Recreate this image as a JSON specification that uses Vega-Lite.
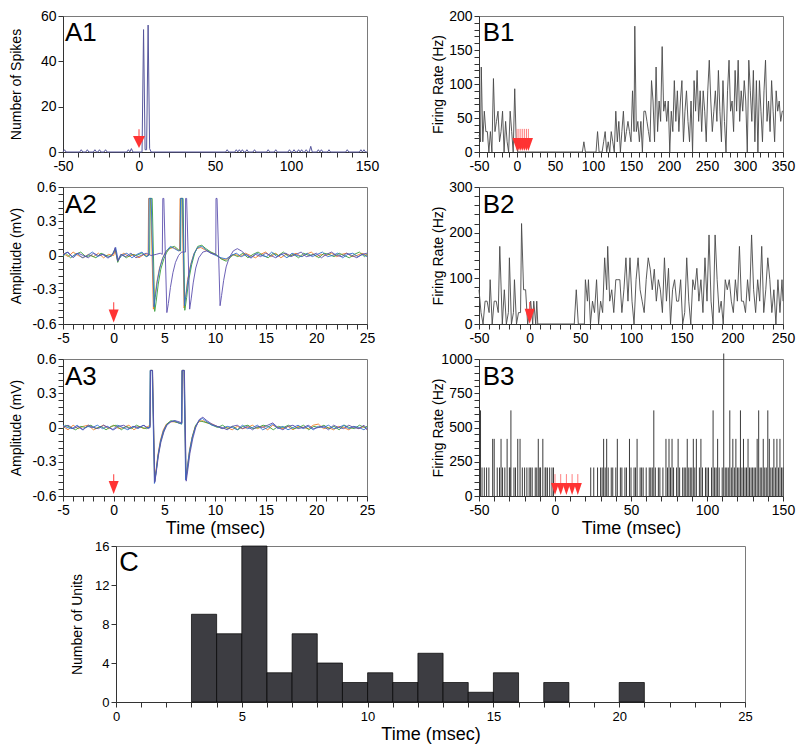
{
"$schema":"https://vega.github.io/schema/vega-lite/v6.json",
"padding":{"left":8,"top":8,"right":4,"bottom":4},
"config":{"font":"Liberation Sans","view":{"stroke":"#7a7a7a","strokeWidth":1},
"axis":{"domainColor":"#333","tickColor":"#333","labelColor":"#000","titleColor":"#000","grid":false,"tickSize":5,"labelPadding":2,"labelFontSize":14,"titleFontSize":14,"titleFontWeight":"normal","labelFlush":false,"labelOverlap":false}},
"datasets":{
"a1":[{"t":-50,"v":0},{"t":-49,"v":1},{"t":-48,"v":0},{"t":-39,"v":0},{"t":-38,"v":1},{"t":-37,"v":0},{"t":-35,"v":0},{"t":-34,"v":1},{"t":-33,"v":0},{"t":-30,"v":0},{"t":-29,"v":1},{"t":-28,"v":0},{"t":-27,"v":0},{"t":-26,"v":1},{"t":-25,"v":0},{"t":-23,"v":0},{"t":-22,"v":1},{"t":-21,"v":0},{"t":-8,"v":0},{"t":-7,"v":1},{"t":-6,"v":0},{"t":-5,"v":1.5},{"t":-4,"v":0},{"t":2,"v":0},{"t":3,"v":54},{"t":4,"v":1},{"t":5,"v":1},{"t":6,"v":56},{"t":7,"v":1.5},{"t":8,"v":0},{"t":57,"v":0},{"t":58,"v":1},{"t":59,"v":0},{"t":63,"v":0},{"t":64,"v":1},{"t":65,"v":0},{"t":66,"v":1},{"t":67,"v":0},{"t":68,"v":1},{"t":69,"v":0},{"t":70,"v":0},{"t":71,"v":1},{"t":72,"v":0},{"t":75,"v":0},{"t":76,"v":1},{"t":77,"v":0},{"t":84,"v":0},{"t":85,"v":1},{"t":86,"v":0},{"t":89,"v":0},{"t":90,"v":1},{"t":91,"v":0},{"t":98,"v":0},{"t":99,"v":1},{"t":100,"v":0},{"t":101,"v":0},{"t":102,"v":1},{"t":103,"v":0},{"t":104,"v":0},{"t":105,"v":1},{"t":106,"v":0},{"t":107,"v":1},{"t":108,"v":0},{"t":109,"v":0},{"t":110,"v":1},{"t":111,"v":0},{"t":112,"v":0},{"t":113,"v":2.5},{"t":114,"v":0},{"t":117,"v":0},{"t":118,"v":1},{"t":119,"v":0},{"t":120,"v":1},{"t":121,"v":0},{"t":124,"v":0},{"t":125,"v":1},{"t":126,"v":0},{"t":136,"v":0},{"t":137,"v":1},{"t":138,"v":0},{"t":145,"v":0},{"t":146,"v":1},{"t":147,"v":0},{"t":148,"v":1},{"t":149,"v":0},{"t":150,"v":0}],
"a2":[
{"s":"a","t":-5,"v":0.02},{"s":"a","t":-4.5,"v":-0.01},{"s":"a","t":-4,"v":0.03},{"s":"a","t":-3.5,"v":0},{"s":"a","t":-3,"v":-0.02},{"s":"a","t":-2.5,"v":0.01},{"s":"a","t":-2,"v":-0.01},{"s":"a","t":-1.5,"v":0.02},{"s":"a","t":-1,"v":-0.02},{"s":"a","t":-0.5,"v":0.01},{"s":"a","t":0,"v":0},{"s":"a","t":0.15,"v":0.05},{"s":"a","t":0.4,"v":-0.05},{"s":"a","t":0.7,"v":0},{"s":"a","t":1,"v":0.02},{"s":"a","t":1.5,"v":-0.01},{"s":"a","t":2,"v":0.01},{"s":"a","t":2.5,"v":-0.02},{"s":"a","t":3,"v":0.01},{"s":"a","t":3.4,"v":0},{"s":"a","t":3.45,"v":0.5},{"s":"a","t":3.65,"v":0.5},{"s":"a","t":3.92,"v":-0.47},{"s":"a","t":4.05,"v":-0.38},{"s":"a","t":4.25,"v":-0.24},{"s":"a","t":4.5,"v":-0.12},{"s":"a","t":4.8,"v":-0.03},{"s":"a","t":5.1,"v":0.03},{"s":"a","t":5.5,"v":0.06},{"s":"a","t":5.9,"v":0.07},{"s":"a","t":6.3,"v":0.05},{"s":"a","t":6.5,"v":0.04},{"s":"a","t":6.55,"v":0.5},{"s":"a","t":6.75,"v":0.5},{"s":"a","t":6.95,"v":-0.46},{"s":"a","t":7.1,"v":-0.36},{"s":"a","t":7.3,"v":-0.21},{"s":"a","t":7.6,"v":-0.08},{"s":"a","t":7.9,"v":0.01},{"s":"a","t":8.2,"v":0.06},{"s":"a","t":8.6,"v":0.07},{"s":"a","t":9,"v":0.05},{"s":"a","t":9.5,"v":0.03},{"s":"a","t":10,"v":0.01},{"s":"a","t":10.5,"v":-0.02},{"s":"a","t":11,"v":-0.04},{"s":"a","t":11.5,"v":-0.01},{"s":"a","t":12,"v":0.01},{"s":"a","t":12.5,"v":-0.01},{"s":"a","t":13,"v":0.02},{"s":"a","t":13.5,"v":0},{"s":"a","t":14,"v":-0.02},{"s":"a","t":14.5,"v":0.01},{"s":"a","t":15,"v":0.03},{"s":"a","t":15.5,"v":-0.01},{"s":"a","t":16,"v":0.02},{"s":"a","t":16.5,"v":-0.02},{"s":"a","t":17,"v":0.01},{"s":"a","t":17.5,"v":0},{"s":"a","t":18,"v":0.02},{"s":"a","t":18.5,"v":-0.01},{"s":"a","t":19,"v":0.01},{"s":"a","t":19.5,"v":0.03},{"s":"a","t":20,"v":-0.01},{"s":"a","t":20.5,"v":0.01},{"s":"a","t":21,"v":0},{"s":"a","t":21.5,"v":0.02},{"s":"a","t":22,"v":-0.01},{"s":"a","t":22.5,"v":0.01},{"s":"a","t":23,"v":0.02},{"s":"a","t":23.5,"v":-0.01},{"s":"a","t":24,"v":0},{"s":"a","t":24.5,"v":0.02},{"s":"a","t":25,"v":0},
{"s":"b","t":-5,"v":-0.01},{"s":"b","t":-4.75,"v":0.02},{"s":"b","t":-4.25,"v":-0.02},{"s":"b","t":-3.75,"v":0.01},{"s":"b","t":-3.25,"v":0.03},{"s":"b","t":-2.75,"v":-0.01},{"s":"b","t":-2.25,"v":0},{"s":"b","t":-1.75,"v":-0.02},{"s":"b","t":-1.25,"v":0.02},{"s":"b","t":-0.75,"v":0},{"s":"b","t":-0.25,"v":-0.01},{"s":"b","t":0.15,"v":0.06},{"s":"b","t":0.4,"v":-0.06},{"s":"b","t":0.75,"v":0.01},{"s":"b","t":1.25,"v":-0.02},{"s":"b","t":1.75,"v":0.01},{"s":"b","t":2.25,"v":0},{"s":"b","t":2.75,"v":0.02},{"s":"b","t":3.25,"v":-0.01},{"s":"b","t":3.55,"v":0.01},{"s":"b","t":3.6,"v":0.5},{"s":"b","t":3.8,"v":0.5},{"s":"b","t":4.05,"v":-0.49},{"s":"b","t":4.2,"v":-0.4},{"s":"b","t":4.4,"v":-0.25},{"s":"b","t":4.65,"v":-0.12},{"s":"b","t":4.95,"v":-0.03},{"s":"b","t":5.25,"v":0.03},{"s":"b","t":5.6,"v":0.07},{"s":"b","t":6,"v":0.08},{"s":"b","t":6.4,"v":0.05},{"s":"b","t":6.6,"v":0.04},{"s":"b","t":6.65,"v":0.5},{"s":"b","t":6.85,"v":0.5},{"s":"b","t":7.02,"v":-0.48},{"s":"b","t":7.2,"v":-0.37},{"s":"b","t":7.4,"v":-0.22},{"s":"b","t":7.7,"v":-0.08},{"s":"b","t":8,"v":0.02},{"s":"b","t":8.3,"v":0.08},{"s":"b","t":8.7,"v":0.09},{"s":"b","t":9.1,"v":0.06},{"s":"b","t":9.6,"v":0.03},{"s":"b","t":10.1,"v":0.01},{"s":"b","t":10.6,"v":-0.03},{"s":"b","t":11.1,"v":-0.05},{"s":"b","t":11.5,"v":-0.02},{"s":"b","t":11.75,"v":0.01},{"s":"b","t":12.25,"v":-0.01},{"s":"b","t":12.75,"v":0.02},{"s":"b","t":13.25,"v":-0.02},{"s":"b","t":13.75,"v":0.01},{"s":"b","t":14.25,"v":0.03},{"s":"b","t":14.75,"v":0},{"s":"b","t":15.25,"v":-0.02},{"s":"b","t":15.75,"v":0.02},{"s":"b","t":16.25,"v":0},{"s":"b","t":16.75,"v":0.03},{"s":"b","t":17.25,"v":-0.01},{"s":"b","t":17.75,"v":0.01},{"s":"b","t":18.25,"v":-0.02},{"s":"b","t":18.75,"v":0.02},{"s":"b","t":19.25,"v":0},{"s":"b","t":19.75,"v":0.01},{"s":"b","t":20.25,"v":-0.02},{"s":"b","t":20.75,"v":0.02},{"s":"b","t":21.25,"v":0.01},{"s":"b","t":21.75,"v":-0.01},{"s":"b","t":22.25,"v":0.02},{"s":"b","t":22.75,"v":0},{"s":"b","t":23.25,"v":-0.02},{"s":"b","t":23.75,"v":0.01},{"s":"b","t":24.25,"v":0.03},{"s":"b","t":24.75,"v":-0.01},{"s":"b","t":25,"v":0.01},
{"s":"c","t":-5,"v":0},{"s":"c","t":-4.6,"v":0.03},{"s":"c","t":-4.1,"v":-0.01},{"s":"c","t":-3.6,"v":0.02},{"s":"c","t":-3.1,"v":-0.02},{"s":"c","t":-2.6,"v":0},{"s":"c","t":-2.1,"v":0.03},{"s":"c","t":-1.6,"v":-0.01},{"s":"c","t":-1.1,"v":0.01},{"s":"c","t":-0.6,"v":-0.02},{"s":"c","t":-0.1,"v":0.01},{"s":"c","t":0.2,"v":0.07},{"s":"c","t":0.45,"v":-0.04},{"s":"c","t":0.8,"v":0},{"s":"c","t":1.3,"v":0.02},{"s":"c","t":1.8,"v":-0.02},{"s":"c","t":2.3,"v":0.01},{"s":"c","t":2.8,"v":0.03},{"s":"c","t":3.2,"v":-0.01},{"s":"c","t":3.45,"v":0},{"s":"c","t":3.5,"v":0.5},{"s":"c","t":3.7,"v":0.5},{"s":"c","t":3.98,"v":-0.45},{"s":"c","t":4.1,"v":-0.37},{"s":"c","t":4.3,"v":-0.23},{"s":"c","t":4.55,"v":-0.11},{"s":"c","t":4.85,"v":-0.02},{"s":"c","t":5.2,"v":0.04},{"s":"c","t":5.6,"v":0.08},{"s":"c","t":6,"v":0.06},{"s":"c","t":6.4,"v":0.04},{"s":"c","t":6.55,"v":0.05},{"s":"c","t":6.6,"v":0.5},{"s":"c","t":6.8,"v":0.5},{"s":"c","t":6.98,"v":-0.44},{"s":"c","t":7.15,"v":-0.34},{"s":"c","t":7.35,"v":-0.2},{"s":"c","t":7.65,"v":-0.07},{"s":"c","t":7.95,"v":0.02},{"s":"c","t":8.3,"v":0.07},{"s":"c","t":8.7,"v":0.08},{"s":"c","t":9.1,"v":0.05},{"s":"c","t":9.6,"v":0.02},{"s":"c","t":10.1,"v":0},{"s":"c","t":10.6,"v":-0.02},{"s":"c","t":11.1,"v":-0.03},{"s":"c","t":11.6,"v":0},{"s":"c","t":12.1,"v":0.02},{"s":"c","t":12.6,"v":-0.01},{"s":"c","t":13.1,"v":0.01},{"s":"c","t":13.6,"v":-0.02},{"s":"c","t":14.1,"v":0.02},{"s":"c","t":14.6,"v":0},{"s":"c","t":15.1,"v":-0.01},{"s":"c","t":15.6,"v":0.03},{"s":"c","t":16.1,"v":-0.01},{"s":"c","t":16.6,"v":0.01},{"s":"c","t":17.1,"v":-0.02},{"s":"c","t":17.6,"v":0.02},{"s":"c","t":18.1,"v":0},{"s":"c","t":18.6,"v":-0.01},{"s":"c","t":19.1,"v":0.02},{"s":"c","t":19.6,"v":-0.01},{"s":"c","t":20.1,"v":0.01},{"s":"c","t":20.6,"v":0.03},{"s":"c","t":21.1,"v":-0.01},{"s":"c","t":21.6,"v":0},{"s":"c","t":22.1,"v":0.02},{"s":"c","t":22.6,"v":-0.02},{"s":"c","t":23.1,"v":0.01},{"s":"c","t":23.6,"v":0.02},{"s":"c","t":24.1,"v":-0.01},{"s":"c","t":24.6,"v":0.01},{"s":"c","t":25,"v":-0.01},
{"s":"d","t":-5,"v":0.01},{"s":"d","t":-4.5,"v":0.03},{"s":"d","t":-4,"v":-0.02},{"s":"d","t":-3.5,"v":0.02},{"s":"d","t":-3,"v":0},{"s":"d","t":-2.5,"v":-0.02},{"s":"d","t":-2,"v":0.02},{"s":"d","t":-1.5,"v":0},{"s":"d","t":-1,"v":0.01},{"s":"d","t":-0.5,"v":-0.02},{"s":"d","t":0,"v":0.02},{"s":"d","t":0.15,"v":0.07},{"s":"d","t":0.4,"v":-0.05},{"s":"d","t":0.7,"v":0.01},{"s":"d","t":1.2,"v":-0.01},{"s":"d","t":1.7,"v":0.02},{"s":"d","t":2.2,"v":-0.02},{"s":"d","t":2.7,"v":0},{"s":"d","t":3.2,"v":0.02},{"s":"d","t":3.7,"v":0},{"s":"d","t":4.2,"v":0.01},{"s":"d","t":4.6,"v":0.02},{"s":"d","t":4.8,"v":0.01},{"s":"d","t":4.85,"v":0.5},{"s":"d","t":4.95,"v":0.5},{"s":"d","t":5.25,"v":-0.5},{"s":"d","t":5.4,"v":-0.42},{"s":"d","t":5.6,"v":-0.28},{"s":"d","t":5.85,"v":-0.15},{"s":"d","t":6.1,"v":-0.06},{"s":"d","t":6.4,"v":0},{"s":"d","t":6.7,"v":0.03},{"s":"d","t":7,"v":0.03},{"s":"d","t":7.08,"v":0.03},{"s":"d","t":7.1,"v":0.5},{"s":"d","t":7.2,"v":0.5},{"s":"d","t":7.5,"v":-0.47},{"s":"d","t":7.65,"v":-0.38},{"s":"d","t":7.85,"v":-0.24},{"s":"d","t":8.1,"v":-0.11},{"s":"d","t":8.4,"v":-0.02},{"s":"d","t":8.8,"v":0.03},{"s":"d","t":9.2,"v":0.04},{"s":"d","t":9.6,"v":0.02},{"s":"d","t":10,"v":0.01},{"s":"d","t":10.08,"v":0.01},{"s":"d","t":10.1,"v":0.5},{"s":"d","t":10.2,"v":0.5},{"s":"d","t":10.5,"v":-0.44},{"s":"d","t":10.65,"v":-0.35},{"s":"d","t":10.85,"v":-0.22},{"s":"d","t":11.1,"v":-0.1},{"s":"d","t":11.4,"v":-0.02},{"s":"d","t":11.8,"v":0.04},{"s":"d","t":12.2,"v":0.06},{"s":"d","t":12.6,"v":0.04},{"s":"d","t":13,"v":0.01},{"s":"d","t":13.5,"v":-0.02},{"s":"d","t":14,"v":0.01},{"s":"d","t":14.5,"v":-0.01},{"s":"d","t":15,"v":0.02},{"s":"d","t":15.5,"v":0},{"s":"d","t":16,"v":-0.02},{"s":"d","t":16.5,"v":0.01},{"s":"d","t":17,"v":0.02},{"s":"d","t":17.5,"v":-0.01},{"s":"d","t":18,"v":0.01},{"s":"d","t":18.5,"v":0.03},{"s":"d","t":19,"v":-0.01},{"s":"d","t":19.5,"v":0},{"s":"d","t":20,"v":0.02},{"s":"d","t":20.5,"v":-0.02},{"s":"d","t":21,"v":0.01},{"s":"d","t":21.5,"v":0.03},{"s":"d","t":22,"v":0},{"s":"d","t":22.5,"v":-0.01},{"s":"d","t":23,"v":0.02},{"s":"d","t":23.5,"v":0},{"s":"d","t":24,"v":-0.02},{"s":"d","t":24.5,"v":0.01},{"s":"d","t":25,"v":0.02}],
"a3":[
{"s":"a","t":-5,"v":0.01},{"s":"a","t":-4.5,"v":-0.02},{"s":"a","t":-4,"v":0.02},{"s":"a","t":-3.5,"v":-0.01},{"s":"a","t":-3,"v":0.01},{"s":"a","t":-2.5,"v":0.02},{"s":"a","t":-2,"v":-0.02},{"s":"a","t":-1.5,"v":0},{"s":"a","t":-1,"v":0.02},{"s":"a","t":-0.5,"v":-0.01},{"s":"a","t":0,"v":0.02},{"s":"a","t":0.5,"v":-0.01},{"s":"a","t":1,"v":0},{"s":"a","t":1.5,"v":0.02},{"s":"a","t":2,"v":-0.02},{"s":"a","t":2.5,"v":0.01},{"s":"a","t":3,"v":-0.01},{"s":"a","t":3.4,"v":0.01},{"s":"a","t":3.6,"v":0.02},{"s":"a","t":3.63,"v":0.5},{"s":"a","t":3.83,"v":0.5},{"s":"a","t":4.03,"v":-0.45},{"s":"a","t":4.18,"v":-0.37},{"s":"a","t":4.38,"v":-0.23},{"s":"a","t":4.62,"v":-0.11},{"s":"a","t":4.9,"v":-0.02},{"s":"a","t":5.2,"v":0.03},{"s":"a","t":5.6,"v":0.05},{"s":"a","t":6,"v":0.05},{"s":"a","t":6.4,"v":0.04},{"s":"a","t":6.7,"v":0.04},{"s":"a","t":6.74,"v":0.5},{"s":"a","t":6.94,"v":0.5},{"s":"a","t":7.12,"v":-0.44},{"s":"a","t":7.28,"v":-0.34},{"s":"a","t":7.48,"v":-0.2},{"s":"a","t":7.75,"v":-0.08},{"s":"a","t":8.05,"v":0.01},{"s":"a","t":8.4,"v":0.05},{"s":"a","t":8.8,"v":0.06},{"s":"a","t":9.2,"v":0.04},{"s":"a","t":9.7,"v":0.03},{"s":"a","t":10.2,"v":0.01},{"s":"a","t":10.7,"v":-0.01},{"s":"a","t":11.2,"v":0},{"s":"a","t":11.7,"v":-0.02},{"s":"a","t":12.2,"v":0.01},{"s":"a","t":12.7,"v":-0.01},{"s":"a","t":13.2,"v":0},{"s":"a","t":13.7,"v":0.02},{"s":"a","t":14.2,"v":-0.01},{"s":"a","t":14.7,"v":0.01},{"s":"a","t":15.2,"v":-0.02},{"s":"a","t":15.7,"v":0.02},{"s":"a","t":16.2,"v":0},{"s":"a","t":16.7,"v":-0.01},{"s":"a","t":17.2,"v":0.01},{"s":"a","t":17.7,"v":-0.02},{"s":"a","t":18.2,"v":0.01},{"s":"a","t":18.7,"v":0},{"s":"a","t":19.2,"v":-0.01},{"s":"a","t":19.7,"v":0.02},{"s":"a","t":20.2,"v":0.03},{"s":"a","t":20.7,"v":-0.01},{"s":"a","t":21.2,"v":0},{"s":"a","t":21.7,"v":-0.02},{"s":"a","t":22.2,"v":0.01},{"s":"a","t":22.7,"v":0},{"s":"a","t":23.2,"v":-0.02},{"s":"a","t":23.7,"v":0.01},{"s":"a","t":24.2,"v":-0.01},{"s":"a","t":24.7,"v":0.01},{"s":"a","t":25,"v":-0.02},
{"s":"b","t":-5,"v":-0.01},{"s":"b","t":-4.75,"v":0.02},{"s":"b","t":-4.25,"v":0},{"s":"b","t":-3.75,"v":-0.02},{"s":"b","t":-3.25,"v":0.01},{"s":"b","t":-2.75,"v":0},{"s":"b","t":-2.25,"v":0.02},{"s":"b","t":-1.75,"v":-0.01},{"s":"b","t":-1.25,"v":0.01},{"s":"b","t":-0.75,"v":-0.02},{"s":"b","t":-0.25,"v":0.01},{"s":"b","t":0.25,"v":0.02},{"s":"b","t":0.75,"v":-0.02},{"s":"b","t":1.25,"v":0.01},{"s":"b","t":1.75,"v":-0.01},{"s":"b","t":2.25,"v":0.02},{"s":"b","t":2.75,"v":0},{"s":"b","t":3.25,"v":-0.01},{"s":"b","t":3.58,"v":0.01},{"s":"b","t":3.62,"v":0.5},{"s":"b","t":3.82,"v":0.5},{"s":"b","t":4.05,"v":-0.47},{"s":"b","t":4.2,"v":-0.38},{"s":"b","t":4.4,"v":-0.24},{"s":"b","t":4.65,"v":-0.12},{"s":"b","t":4.95,"v":-0.03},{"s":"b","t":5.25,"v":0.03},{"s":"b","t":5.65,"v":0.06},{"s":"b","t":6.05,"v":0.05},{"s":"b","t":6.45,"v":0.04},{"s":"b","t":6.72,"v":0.03},{"s":"b","t":6.76,"v":0.5},{"s":"b","t":6.96,"v":0.5},{"s":"b","t":7.14,"v":-0.45},{"s":"b","t":7.3,"v":-0.35},{"s":"b","t":7.5,"v":-0.21},{"s":"b","t":7.78,"v":-0.08},{"s":"b","t":8.1,"v":0.02},{"s":"b","t":8.45,"v":0.06},{"s":"b","t":8.85,"v":0.05},{"s":"b","t":9.3,"v":0.04},{"s":"b","t":9.75,"v":0.02},{"s":"b","t":10.25,"v":0},{"s":"b","t":10.75,"v":0.02},{"s":"b","t":11.25,"v":-0.01},{"s":"b","t":11.75,"v":0.01},{"s":"b","t":12.25,"v":-0.02},{"s":"b","t":12.75,"v":0.01},{"s":"b","t":13.25,"v":0.02},{"s":"b","t":13.75,"v":-0.01},{"s":"b","t":14.25,"v":0},{"s":"b","t":14.75,"v":0.02},{"s":"b","t":15.25,"v":0.01},{"s":"b","t":15.75,"v":-0.02},{"s":"b","t":16.25,"v":0.01},{"s":"b","t":16.75,"v":0},{"s":"b","t":17.25,"v":0.02},{"s":"b","t":17.75,"v":-0.01},{"s":"b","t":18.25,"v":0},{"s":"b","t":18.75,"v":0.02},{"s":"b","t":19.25,"v":-0.02},{"s":"b","t":19.75,"v":0.01},{"s":"b","t":20.25,"v":0},{"s":"b","t":20.75,"v":0.02},{"s":"b","t":21.25,"v":-0.01},{"s":"b","t":21.75,"v":0.01},{"s":"b","t":22.25,"v":-0.02},{"s":"b","t":22.75,"v":0.02},{"s":"b","t":23.25,"v":0},{"s":"b","t":23.75,"v":-0.01},{"s":"b","t":24.25,"v":0.02},{"s":"b","t":24.75,"v":0},{"s":"b","t":25,"v":0.01},
{"s":"c","t":-5,"v":0.02},{"s":"c","t":-4.6,"v":0},{"s":"c","t":-4.1,"v":-0.01},{"s":"c","t":-3.6,"v":0.02},{"s":"c","t":-3.1,"v":-0.02},{"s":"c","t":-2.6,"v":0.01},{"s":"c","t":-2.1,"v":0},{"s":"c","t":-1.6,"v":0.02},{"s":"c","t":-1.1,"v":-0.01},{"s":"c","t":-0.6,"v":0.01},{"s":"c","t":-0.1,"v":-0.02},{"s":"c","t":0.4,"v":0.02},{"s":"c","t":0.9,"v":0},{"s":"c","t":1.4,"v":-0.02},{"s":"c","t":1.9,"v":0.01},{"s":"c","t":2.4,"v":-0.01},{"s":"c","t":2.9,"v":0.02},{"s":"c","t":3.3,"v":0},{"s":"c","t":3.56,"v":0},{"s":"c","t":3.6,"v":0.5},{"s":"c","t":3.8,"v":0.5},{"s":"c","t":4.02,"v":-0.49},{"s":"c","t":4.17,"v":-0.4},{"s":"c","t":4.37,"v":-0.25},{"s":"c","t":4.62,"v":-0.12},{"s":"c","t":4.9,"v":-0.03},{"s":"c","t":5.2,"v":0.02},{"s":"c","t":5.6,"v":0.05},{"s":"c","t":6,"v":0.06},{"s":"c","t":6.4,"v":0.04},{"s":"c","t":6.7,"v":0.03},{"s":"c","t":6.74,"v":0.5},{"s":"c","t":6.94,"v":0.5},{"s":"c","t":7.1,"v":-0.46},{"s":"c","t":7.26,"v":-0.36},{"s":"c","t":7.46,"v":-0.22},{"s":"c","t":7.74,"v":-0.09},{"s":"c","t":8.05,"v":0},{"s":"c","t":8.4,"v":0.06},{"s":"c","t":8.75,"v":0.08},{"s":"c","t":9.2,"v":0.05},{"s":"c","t":9.7,"v":0.02},{"s":"c","t":10.2,"v":0.01},{"s":"c","t":10.7,"v":-0.01},{"s":"c","t":11.2,"v":0.01},{"s":"c","t":11.7,"v":0},{"s":"c","t":12.2,"v":-0.02},{"s":"c","t":12.7,"v":0.02},{"s":"c","t":13.2,"v":-0.01},{"s":"c","t":13.7,"v":0},{"s":"c","t":14.2,"v":0.02},{"s":"c","t":14.7,"v":-0.02},{"s":"c","t":15.2,"v":0},{"s":"c","t":15.7,"v":0.03},{"s":"c","t":16.2,"v":-0.01},{"s":"c","t":16.7,"v":0.01},{"s":"c","t":17.2,"v":-0.02},{"s":"c","t":17.7,"v":0},{"s":"c","t":18.2,"v":0.02},{"s":"c","t":18.7,"v":-0.01},{"s":"c","t":19.2,"v":0.01},{"s":"c","t":19.7,"v":-0.02},{"s":"c","t":20.2,"v":0.01},{"s":"c","t":20.7,"v":0},{"s":"c","t":21.2,"v":0.02},{"s":"c","t":21.7,"v":-0.01},{"s":"c","t":22.2,"v":0},{"s":"c","t":22.7,"v":0.02},{"s":"c","t":23.2,"v":-0.01},{"s":"c","t":23.7,"v":0.01},{"s":"c","t":24.2,"v":0},{"s":"c","t":24.7,"v":-0.02},{"s":"c","t":25,"v":0},
{"s":"d","t":-5,"v":0},{"s":"d","t":-4.5,"v":0.02},{"s":"d","t":-4,"v":-0.01},{"s":"d","t":-3.5,"v":0.01},{"s":"d","t":-3,"v":-0.02},{"s":"d","t":-2.5,"v":0.02},{"s":"d","t":-2,"v":0},{"s":"d","t":-1.5,"v":-0.01},{"s":"d","t":-1,"v":0.02},{"s":"d","t":-0.5,"v":0},{"s":"d","t":0,"v":-0.02},{"s":"d","t":0.5,"v":0.01},{"s":"d","t":1,"v":0.02},{"s":"d","t":1.5,"v":-0.01},{"s":"d","t":2,"v":0.01},{"s":"d","t":2.5,"v":0},{"s":"d","t":3,"v":0.02},{"s":"d","t":3.4,"v":-0.01},{"s":"d","t":3.6,"v":0},{"s":"d","t":3.64,"v":0.5},{"s":"d","t":3.84,"v":0.5},{"s":"d","t":4.06,"v":-0.48},{"s":"d","t":4.21,"v":-0.39},{"s":"d","t":4.41,"v":-0.25},{"s":"d","t":4.66,"v":-0.13},{"s":"d","t":4.95,"v":-0.04},{"s":"d","t":5.25,"v":0.02},{"s":"d","t":5.65,"v":0.05},{"s":"d","t":6.05,"v":0.06},{"s":"d","t":6.45,"v":0.05},{"s":"d","t":6.74,"v":0.04},{"s":"d","t":6.78,"v":0.5},{"s":"d","t":6.98,"v":0.5},{"s":"d","t":7.16,"v":-0.47},{"s":"d","t":7.32,"v":-0.37},{"s":"d","t":7.52,"v":-0.23},{"s":"d","t":7.8,"v":-0.1},{"s":"d","t":8.1,"v":0},{"s":"d","t":8.45,"v":0.07},{"s":"d","t":8.8,"v":0.09},{"s":"d","t":9.2,"v":0.06},{"s":"d","t":9.7,"v":0.03},{"s":"d","t":10.2,"v":0.01},{"s":"d","t":10.7,"v":0},{"s":"d","t":11.2,"v":-0.02},{"s":"d","t":11.7,"v":0.01},{"s":"d","t":12.2,"v":0.02},{"s":"d","t":12.7,"v":-0.01},{"s":"d","t":13.2,"v":0.01},{"s":"d","t":13.7,"v":-0.02},{"s":"d","t":14.2,"v":0.01},{"s":"d","t":14.7,"v":0},{"s":"d","t":15.2,"v":0.02},{"s":"d","t":15.7,"v":0.04},{"s":"d","t":16.2,"v":0},{"s":"d","t":16.7,"v":-0.02},{"s":"d","t":17.2,"v":0.01},{"s":"d","t":17.7,"v":0.02},{"s":"d","t":18.2,"v":-0.01},{"s":"d","t":18.7,"v":0},{"s":"d","t":19.2,"v":0.02},{"s":"d","t":19.7,"v":-0.01},{"s":"d","t":20.2,"v":0},{"s":"d","t":20.7,"v":0.01},{"s":"d","t":21.2,"v":-0.02},{"s":"d","t":21.7,"v":0.02},{"s":"d","t":22.2,"v":0},{"s":"d","t":22.7,"v":-0.01},{"s":"d","t":23.2,"v":0.02},{"s":"d","t":23.7,"v":0},{"s":"d","t":24.2,"v":-0.01},{"s":"d","t":24.7,"v":0.02},{"s":"d","t":25,"v":-0.02}],
"b1":[{"t":-50,"v":25},{"t":-48,"v":15},{"t":-47,"v":125},{"t":-45,"v":15},{"t":-43,"v":60},{"t":-41,"v":30},{"t":-39,"v":30},{"t":-37,"v":0},{"t":-35,"v":30},{"t":-33,"v":0},{"t":-31,"v":108},{"t":-29,"v":30},{"t":-27,"v":45},{"t":-25,"v":60},{"t":-23,"v":15},{"t":-21,"v":30},{"t":-19,"v":60},{"t":-17,"v":0},{"t":-15,"v":45},{"t":-13,"v":15},{"t":-11,"v":0},{"t":-9,"v":60},{"t":-7,"v":30},{"t":-5,"v":0},{"t":-3,"v":93},{"t":-1,"v":15},{"t":1,"v":0},{"t":86,"v":0},{"t":88,"v":15},{"t":90,"v":0},{"t":104,"v":0},{"t":106,"v":30},{"t":108,"v":0},{"t":112,"v":0},{"t":114,"v":15},{"t":116,"v":30},{"t":118,"v":0},{"t":120,"v":15},{"t":122,"v":0},{"t":124,"v":30},{"t":126,"v":15},{"t":128,"v":0},{"t":130,"v":60},{"t":132,"v":15},{"t":134,"v":45},{"t":136,"v":0},{"t":138,"v":30},{"t":140,"v":60},{"t":142,"v":15},{"t":144,"v":30},{"t":146,"v":45},{"t":148,"v":30},{"t":150,"v":15},{"t":152,"v":90},{"t":154,"v":30},{"t":155,"v":185},{"t":157,"v":30},{"t":159,"v":45},{"t":161,"v":15},{"t":163,"v":45},{"t":165,"v":0},{"t":167,"v":60},{"t":169,"v":60},{"t":171,"v":45},{"t":173,"v":30},{"t":175,"v":15},{"t":177,"v":105},{"t":179,"v":75},{"t":181,"v":15},{"t":183,"v":125},{"t":185,"v":30},{"t":187,"v":75},{"t":189,"v":45},{"t":191,"v":155},{"t":193,"v":60},{"t":195,"v":75},{"t":197,"v":45},{"t":199,"v":75},{"t":201,"v":0},{"t":203,"v":60},{"t":205,"v":30},{"t":207,"v":105},{"t":209,"v":45},{"t":211,"v":90},{"t":213,"v":30},{"t":215,"v":75},{"t":217,"v":105},{"t":219,"v":15},{"t":221,"v":60},{"t":223,"v":90},{"t":225,"v":45},{"t":227,"v":15},{"t":229,"v":75},{"t":231,"v":0},{"t":233,"v":105},{"t":235,"v":60},{"t":237,"v":120},{"t":239,"v":45},{"t":241,"v":90},{"t":243,"v":30},{"t":245,"v":90},{"t":247,"v":60},{"t":249,"v":15},{"t":251,"v":90},{"t":253,"v":135},{"t":255,"v":75},{"t":257,"v":30},{"t":259,"v":60},{"t":261,"v":90},{"t":263,"v":45},{"t":265,"v":120},{"t":267,"v":60},{"t":269,"v":15},{"t":271,"v":105},{"t":273,"v":45},{"t":275,"v":0},{"t":277,"v":90},{"t":279,"v":135},{"t":281,"v":60},{"t":283,"v":75},{"t":285,"v":30},{"t":287,"v":120},{"t":289,"v":60},{"t":291,"v":135},{"t":293,"v":45},{"t":295,"v":90},{"t":297,"v":60},{"t":299,"v":105},{"t":301,"v":75},{"t":303,"v":0},{"t":305,"v":135},{"t":307,"v":90},{"t":309,"v":45},{"t":311,"v":120},{"t":313,"v":15},{"t":315,"v":105},{"t":317,"v":0},{"t":319,"v":105},{"t":321,"v":60},{"t":323,"v":15},{"t":325,"v":90},{"t":327,"v":135},{"t":329,"v":45},{"t":331,"v":75},{"t":333,"v":30},{"t":335,"v":105},{"t":337,"v":60},{"t":339,"v":15},{"t":341,"v":90},{"t":343,"v":60},{"t":345,"v":75},{"t":347,"v":45},{"t":349,"v":60},{"t":350,"v":60}],
"b2":[{"t":-50,"v":75},{"t":-48,"v":25},{"t":-46,"v":0},{"t":-44,"v":50},{"t":-42,"v":50},{"t":-40,"v":25},{"t":-39,"v":97},{"t":-37,"v":0},{"t":-35,"v":50},{"t":-33,"v":50},{"t":-31,"v":25},{"t":-29.5,"v":170},{"t":-27,"v":0},{"t":-25,"v":75},{"t":-23,"v":0},{"t":-21,"v":25},{"t":-20,"v":145},{"t":-18,"v":0},{"t":-16,"v":25},{"t":-15,"v":97},{"t":-13,"v":0},{"t":-11,"v":25},{"t":-9,"v":25},{"t":-8,"v":220},{"t":-6,"v":75},{"t":-4,"v":75},{"t":-2,"v":0},{"t":0,"v":25},{"t":1,"v":50},{"t":3,"v":0},{"t":4,"v":50},{"t":6,"v":0},{"t":7,"v":50},{"t":8,"v":0},{"t":44,"v":0},{"t":46,"v":75},{"t":48,"v":0},{"t":54,"v":0},{"t":55,"v":97},{"t":57,"v":50},{"t":58,"v":97},{"t":60,"v":0},{"t":62,"v":50},{"t":64,"v":25},{"t":66,"v":97},{"t":68,"v":0},{"t":70,"v":50},{"t":72,"v":25},{"t":74,"v":145},{"t":76,"v":75},{"t":77,"v":170},{"t":79,"v":50},{"t":81,"v":75},{"t":83,"v":25},{"t":85,"v":97},{"t":87,"v":97},{"t":89,"v":97},{"t":91,"v":25},{"t":93,"v":75},{"t":95,"v":145},{"t":97,"v":50},{"t":99,"v":145},{"t":101,"v":50},{"t":103,"v":0},{"t":105,"v":97},{"t":107,"v":145},{"t":109,"v":75},{"t":111,"v":50},{"t":113,"v":25},{"t":115,"v":97},{"t":117,"v":145},{"t":119,"v":120},{"t":121,"v":75},{"t":123,"v":120},{"t":125,"v":50},{"t":127,"v":97},{"t":129,"v":75},{"t":131,"v":25},{"t":133,"v":145},{"t":135,"v":50},{"t":137,"v":122},{"t":139,"v":0},{"t":141,"v":75},{"t":143,"v":97},{"t":145,"v":50},{"t":147,"v":50},{"t":149,"v":97},{"t":151,"v":0},{"t":153,"v":25},{"t":155,"v":145},{"t":157,"v":50},{"t":159,"v":0},{"t":161,"v":97},{"t":163,"v":75},{"t":165,"v":122},{"t":167,"v":50},{"t":169,"v":97},{"t":171,"v":25},{"t":173,"v":145},{"t":175,"v":50},{"t":177,"v":195},{"t":179,"v":50},{"t":181,"v":0},{"t":183,"v":195},{"t":185,"v":97},{"t":187,"v":25},{"t":189,"v":50},{"t":191,"v":0},{"t":193,"v":97},{"t":195,"v":75},{"t":197,"v":97},{"t":199,"v":50},{"t":201,"v":25},{"t":203,"v":97},{"t":205,"v":50},{"t":207,"v":170},{"t":209,"v":50},{"t":211,"v":50},{"t":213,"v":25},{"t":215,"v":97},{"t":217,"v":50},{"t":219,"v":195},{"t":221,"v":75},{"t":223,"v":25},{"t":225,"v":97},{"t":227,"v":50},{"t":229,"v":170},{"t":231,"v":25},{"t":233,"v":75},{"t":235,"v":145},{"t":237,"v":97},{"t":239,"v":25},{"t":241,"v":75},{"t":243,"v":0},{"t":245,"v":97},{"t":247,"v":25},{"t":249,"v":97},{"t":250,"v":50}],
"b3":[{"t":-49,"v":625},{"t":-48,"v":208},{"t":-46.5,"v":208},{"t":-45,"v":208},{"t":-43.5,"v":208},{"t":-41,"v":417},{"t":-40,"v":417},{"t":-38,"v":208},{"t":-36.5,"v":208},{"t":-35.5,"v":417},{"t":-34.5,"v":208},{"t":-33,"v":208},{"t":-31.5,"v":417},{"t":-30,"v":208},{"t":-29.5,"v":208},{"t":-29,"v":625},{"t":-27,"v":208},{"t":-26,"v":208},{"t":-24.5,"v":417},{"t":-23,"v":417},{"t":-21.5,"v":208},{"t":-20,"v":208},{"t":-18.5,"v":208},{"t":-17,"v":208},{"t":-16,"v":208},{"t":-15,"v":208},{"t":-13,"v":208},{"t":-12,"v":208},{"t":-11,"v":417},{"t":-10,"v":208},{"t":-9.5,"v":208},{"t":-8,"v":417},{"t":-6.5,"v":208},{"t":-6,"v":208},{"t":-5,"v":208},{"t":-3.5,"v":208},{"t":-2,"v":208},{"t":-1,"v":208},{"t":23.5,"v":208},{"t":25.5,"v":208},{"t":28,"v":208},{"t":30,"v":208},{"t":31,"v":208},{"t":32,"v":417},{"t":33,"v":208},{"t":34,"v":417},{"t":35,"v":208},{"t":37,"v":208},{"t":38,"v":208},{"t":40,"v":208},{"t":41,"v":417},{"t":43,"v":208},{"t":44,"v":208},{"t":46,"v":208},{"t":47,"v":208},{"t":49,"v":417},{"t":50,"v":208},{"t":52,"v":208},{"t":53,"v":208},{"t":54,"v":417},{"t":56,"v":208},{"t":57,"v":208},{"t":58,"v":208},{"t":60,"v":208},{"t":62,"v":208},{"t":63,"v":208},{"t":64,"v":208},{"t":65,"v":625},{"t":66,"v":208},{"t":68,"v":208},{"t":69,"v":208},{"t":71,"v":208},{"t":73,"v":417},{"t":74,"v":208},{"t":75,"v":417},{"t":76,"v":208},{"t":77,"v":417},{"t":78,"v":208},{"t":80,"v":208},{"t":81,"v":417},{"t":82,"v":208},{"t":84,"v":208},{"t":85,"v":208},{"t":86,"v":208},{"t":87,"v":417},{"t":88,"v":208},{"t":89,"v":208},{"t":90,"v":208},{"t":91,"v":417},{"t":92,"v":208},{"t":93,"v":417},{"t":95,"v":208},{"t":96,"v":417},{"t":97,"v":208},{"t":99,"v":208},{"t":100,"v":208},{"t":101,"v":208},{"t":103,"v":208},{"t":104,"v":625},{"t":105,"v":208},{"t":106,"v":208},{"t":107,"v":417},{"t":108,"v":208},{"t":110,"v":208},{"t":111,"v":1040},{"t":112,"v":208},{"t":113,"v":208},{"t":114,"v":208},{"t":115,"v":625},{"t":116,"v":208},{"t":117,"v":417},{"t":118,"v":208},{"t":119,"v":417},{"t":120,"v":208},{"t":121,"v":208},{"t":122,"v":625},{"t":123,"v":208},{"t":124,"v":417},{"t":125,"v":208},{"t":126,"v":208},{"t":127,"v":417},{"t":128,"v":208},{"t":129,"v":208},{"t":130,"v":208},{"t":131,"v":208},{"t":132,"v":208},{"t":133,"v":417},{"t":134,"v":625},{"t":135,"v":208},{"t":136,"v":208},{"t":137,"v":417},{"t":138,"v":208},{"t":139,"v":208},{"t":140,"v":625},{"t":141,"v":417},{"t":142,"v":208},{"t":143,"v":208},{"t":144,"v":417},{"t":145,"v":208},{"t":146,"v":417},{"t":147,"v":208},{"t":148,"v":417},{"t":149,"v":208},{"t":150,"v":208}],
"c":[{"t":3,"t2":4,"v":9},{"t":4,"t2":5,"v":7},{"t":5,"t2":6,"v":16},{"t":6,"t2":7,"v":3},{"t":7,"t2":8,"v":7},{"t":8,"t2":9,"v":4},{"t":9,"t2":10,"v":2},{"t":10,"t2":11,"v":3},{"t":11,"t2":12,"v":2},{"t":12,"t2":13,"v":5},{"t":13,"t2":14,"v":2},{"t":14,"t2":15,"v":1},{"t":15,"t2":16,"v":3},{"t":17,"t2":18,"v":2},{"t":20,"t2":21,"v":2}]
},
"spacing":1,
"vconcat":[
{"spacing":5,"vconcat":[
{"bounds":"flush","spacing":112,"hconcat":[
{"width":304,"height":136,
"encoding":{"x":{"field":"t","type":"quantitative","scale":{"domain":[-50,150],"nice":false},"axis":{"title":null,"values":[-50,-40,-30,-20,-10,0,10,20,30,40,50,60,70,80,90,100,110,120,130,140,150],"labelExpr":"datum.value % 50 === 0 ? replace(format(datum.value,'d'),'−','-') : ''"}},
"y":{"field":"v","type":"quantitative","scale":{"domain":[0,60],"nice":false},"axis":{"title":"Number of Spikes","values":[0,20,40,60],"labelExpr":"format(datum.value,'d')","minExtent":33,"maxExtent":33,"titlePadding":7}}},
"layer":[
{"data":{"name":"a1"},"mark":{"type":"line","color":"#56569c","strokeWidth":1},"encoding":{}},
{"data":{"values":[{"t":0,"v":4.4,"v2":10}]},"mark":{"type":"rule","color":"#ff5a5a","strokeWidth":1.2},"encoding":{"y2":{"field":"v2"}}},
{"data":{"values":[{"t":0,"v":4.4}]},"mark":{"type":"point","shape":"M-1,-1L1,-1L0,1Z","size":144,"filled":true,"color":"#ff3333","opacity":1},"encoding":{}},
{"data":{"values":[{"t":-48.7,"v":49,"lab":"A1"}]},"mark":{"type":"text","align":"left","baseline":"alphabetic","fontSize":26,"color":"#000"},"encoding":{"text":{"field":"lab"}}}
]},
{"width":304,"height":136,
"encoding":{"x":{"field":"t","type":"quantitative","scale":{"domain":[-50,350],"nice":false},"axis":{"title":null,"values":[-50,-40,-30,-20,-10,0,10,20,30,40,50,60,70,80,90,100,110,120,130,140,150,160,170,180,190,200,210,220,230,240,250,260,270,280,290,300,310,320,330,340,350],"labelExpr":"datum.value % 50 === 0 ? replace(format(datum.value,'d'),'−','-') : ''"}},
"y":{"field":"v","type":"quantitative","scale":{"domain":[0,200],"nice":false},"axis":{"title":"Firing Rate (Hz)","values":[0,10,20,30,40,50,60,70,80,90,100,110,120,130,140,150,160,170,180,190,200],"labelExpr":"datum.value % 50 === 0 ? format(datum.value,'d') : ''","minExtent":34,"maxExtent":34,"titlePadding":0}}},
"layer":[
{"data":{"name":"b1"},"mark":{"type":"line","color":"#484848","strokeWidth":0.9},"encoding":{}},
{"data":{"values":[{"t":0,"v":11,"v2":34},{"t":2.5,"v":11,"v2":34},{"t":5,"v":11,"v2":34},{"t":7.5,"v":11,"v2":34},{"t":10,"v":11,"v2":34},{"t":12.5,"v":11,"v2":34},{"t":15,"v":11,"v2":34}]},"mark":{"type":"rule","color":"#ff8080","strokeWidth":1},"encoding":{"y2":{"field":"v2"}}},
{"data":{"values":[{"t":0,"v":11},{"t":2.5,"v":11},{"t":5,"v":11},{"t":7.5,"v":11},{"t":10,"v":11},{"t":12.5,"v":11},{"t":15,"v":11}]},"mark":{"type":"point","shape":"M-0.7,-1L0.7,-1L0,1Z","size":169,"filled":true,"color":"#ff3333","opacity":1},"encoding":{}},
{"data":{"values":[{"t":-45.1,"v":163,"lab":"B1"}]},"mark":{"type":"text","align":"left","baseline":"alphabetic","fontSize":26,"color":"#000"},"encoding":{"text":{"field":"lab"}}}
]}
]},
{"bounds":"flush","spacing":112,"hconcat":[
{"width":304,"height":137,
"encoding":{"x":{"field":"t","type":"quantitative","scale":{"domain":[-5,25],"nice":false},"axis":{"title":null,"values":[-5,-4,-3,-2,-1,0,1,2,3,4,5,6,7,8,9,10,11,12,13,14,15,16,17,18,19,20,21,22,23,24,25],"labelExpr":"datum.value % 5 === 0 ? replace(format(datum.value,'d'),'−','-') : ''"}},
"y":{"field":"v","type":"quantitative","scale":{"domain":[-0.6,0.6],"nice":false},"axis":{"title":"Amplitude (mV)","values":[-0.6,-0.54,-0.48,-0.42,-0.36,-0.3,-0.24,-0.18,-0.12,-0.06,0,0.06,0.12,0.18,0.24,0.3,0.36,0.42,0.48,0.54,0.6],"labelExpr":"abs(round(datum.value*100)) % 30 === 0 ? replace(format(datum.value,'.1~f'),'−','-') : ''","minExtent":33,"maxExtent":33,"titlePadding":7}}},
"layer":[
{"data":{"name":"a2"},"mark":{"type":"line","strokeWidth":0.9},"encoding":{"color":{"field":"s","type":"nominal","scale":{"domain":["a","b","c","d"],"range":["#f07d22","#3a9e3a","#2f6fd0","#5b4fae"]},"legend":null}}},
{"data":{"values":[{"t":0,"v":-0.53,"v2":-0.41}]},"mark":{"type":"rule","color":"#ff5a5a","strokeWidth":1.2},"encoding":{"y2":{"field":"v2"}}},
{"data":{"values":[{"t":0,"v":-0.53}]},"mark":{"type":"point","shape":"M-0.77,-1L0.77,-1L0,1Z","size":169,"filled":true,"color":"#ff3333","opacity":1},"encoding":{}},
{"data":{"values":[{"t":-4.8,"v":0.375,"lab":"A2"}]},"mark":{"type":"text","align":"left","baseline":"alphabetic","fontSize":26,"color":"#000"},"encoding":{"text":{"field":"lab"}}}
]},
{"width":304,"height":137,
"encoding":{"x":{"field":"t","type":"quantitative","scale":{"domain":[-50,250],"nice":false},"axis":{"title":null,"values":[-50,-40,-30,-20,-10,0,10,20,30,40,50,60,70,80,90,100,110,120,130,140,150,160,170,180,190,200,210,220,230,240,250],"labelExpr":"datum.value % 50 === 0 ? replace(format(datum.value,'d'),'−','-') : ''"}},
"y":{"field":"v","type":"quantitative","scale":{"domain":[0,300],"nice":false},"axis":{"title":"Firing Rate (Hz)","values":[0,20,40,60,80,100,120,140,160,180,200,220,240,260,280,300],"labelExpr":"datum.value % 100 === 0 ? format(datum.value,'d') : ''","minExtent":34,"maxExtent":34,"titlePadding":0}}},
"layer":[
{"data":{"name":"b2"},"mark":{"type":"line","color":"#484848","strokeWidth":0.9},"encoding":{}},
{"data":{"values":[{"t":0,"v":17,"v2":48}]},"mark":{"type":"rule","color":"#ff5a5a","strokeWidth":1.2},"encoding":{"y2":{"field":"v2"}}},
{"data":{"values":[{"t":0,"v":17}]},"mark":{"type":"point","shape":"M-0.67,-1L0.67,-1L0,1Z","size":225,"filled":true,"color":"#ff3333","opacity":1},"encoding":{}},
{"data":{"values":[{"t":-46.3,"v":243,"lab":"B2"}]},"mark":{"type":"text","align":"left","baseline":"alphabetic","fontSize":26,"color":"#000"},"encoding":{"text":{"field":"lab"}}}
]}
]},
{"bounds":"flush","spacing":112,"hconcat":[
{"width":304,"height":137,
"encoding":{"x":{"field":"t","type":"quantitative","scale":{"domain":[-5,25],"nice":false},"axis":{"title":"Time (msec)","titleFontSize":18,"titlePadding":2,"values":[-5,-4,-3,-2,-1,0,1,2,3,4,5,6,7,8,9,10,11,12,13,14,15,16,17,18,19,20,21,22,23,24,25],"labelExpr":"datum.value % 5 === 0 ? replace(format(datum.value,'d'),'−','-') : ''"}},
"y":{"field":"v","type":"quantitative","scale":{"domain":[-0.6,0.6],"nice":false},"axis":{"title":"Amplitude (mV)","values":[-0.6,-0.54,-0.48,-0.42,-0.36,-0.3,-0.24,-0.18,-0.12,-0.06,0,0.06,0.12,0.18,0.24,0.3,0.36,0.42,0.48,0.54,0.6],"labelExpr":"abs(round(datum.value*100)) % 30 === 0 ? replace(format(datum.value,'.1~f'),'−','-') : ''","minExtent":33,"maxExtent":33,"titlePadding":7}}},
"layer":[
{"data":{"name":"a3"},"mark":{"type":"line","strokeWidth":0.9},"encoding":{"color":{"field":"s","type":"nominal","scale":{"domain":["a","b","c","d"],"range":["#f07d22","#3a9e3a","#2f6fd0","#5b4fae"]},"legend":null}}},
{"data":{"values":[{"t":0,"v":-0.525,"v2":-0.41}]},"mark":{"type":"rule","color":"#ff5a5a","strokeWidth":1.2},"encoding":{"y2":{"field":"v2"}}},
{"data":{"values":[{"t":0,"v":-0.525}]},"mark":{"type":"point","shape":"M-0.77,-1L0.77,-1L0,1Z","size":169,"filled":true,"color":"#ff3333","opacity":1},"encoding":{}},
{"data":{"values":[{"t":-4.8,"v":0.372,"lab":"A3"}]},"mark":{"type":"text","align":"left","baseline":"alphabetic","fontSize":26,"color":"#000"},"encoding":{"text":{"field":"lab"}}}
]},
{"width":304,"height":137,
"encoding":{"x":{"field":"t","type":"quantitative","scale":{"domain":[-50,150],"nice":false},"axis":{"title":"Time (msec)","titleFontSize":18,"titlePadding":2,"values":[-50,-40,-30,-20,-10,0,10,20,30,40,50,60,70,80,90,100,110,120,130,140,150],"labelExpr":"datum.value % 50 === 0 ? replace(format(datum.value,'d'),'−','-') : ''"}},
"y":{"field":"v","type":"quantitative","scale":{"domain":[0,1000],"nice":false},"axis":{"title":"Firing Rate (Hz)","values":[0,50,100,150,200,250,300,350,400,450,500,550,600,650,700,750,800,850,900,950,1000],"labelExpr":"datum.value % 250 === 0 ? format(datum.value,'d') : ''","minExtent":34,"maxExtent":34,"titlePadding":0}}},
"layer":[
{"data":{"name":"b3"},"mark":{"type":"rule","color":"#3a3a3a","strokeWidth":1},"encoding":{"y2":{"datum":0}}},
{"data":{"values":[{"t":0,"v":51,"v2":160},{"t":3.75,"v":51,"v2":160},{"t":7.5,"v":51,"v2":160},{"t":11.25,"v":51,"v2":160},{"t":15,"v":51,"v2":160}]},"mark":{"type":"rule","color":"#ff8080","strokeWidth":1},"encoding":{"y2":{"field":"v2"}}},
{"data":{"values":[{"t":0,"v":51},{"t":3.75,"v":51},{"t":7.5,"v":51},{"t":11.25,"v":51},{"t":15,"v":51}]},"mark":{"type":"point","shape":"M-0.67,-1L0.67,-1L0,1Z","size":144,"filled":true,"color":"#ff3333","opacity":1},"encoding":{}},
{"data":{"values":[{"t":-47.6,"v":810,"lab":"B3"}]},"mark":{"type":"text","align":"left","baseline":"alphabetic","fontSize":26,"color":"#000"},"encoding":{"text":{"field":"lab"}}}
]}
]}
]},
{"bounds":"flush","spacing":52,"hconcat":[
{"width":1,"height":1,"data":{"values":[{"a":1}]},"mark":{"type":"point","size":1,"opacity":0},"encoding":{},"view":{"stroke":"transparent"}},
{"width":629,"height":156,
"encoding":{"x":{"field":"t","type":"quantitative","scale":{"domain":[0,25],"nice":false},"axis":{"title":"Time (msec)","titleFontSize":18,"titlePadding":2,"labelFontSize":13,"labelPadding":3,"values":[0,1,2,3,4,5,6,7,8,9,10,11,12,13,14,15,16,17,18,19,20,21,22,23,24,25],"labelExpr":"datum.value % 5 === 0 ? format(datum.value,'d') : ''"}},
"y":{"field":"v","type":"quantitative","scale":{"domain":[0,16],"nice":false},"axis":{"title":"Number of Units","values":[0,4,8,12,16],"labelFontSize":13,"labelExpr":"format(datum.value,'d')","minExtent":22,"maxExtent":22,"titlePadding":10}}},
"layer":[
{"data":{"name":"c"},"mark":{"type":"bar","color":"#3d3d42","stroke":"#000","strokeWidth":0.7},"encoding":{"x2":{"field":"t2"},"y2":{"datum":0}}},
{"data":{"values":[{"t":0.13,"v":13.4,"lab":"C"}]},"mark":{"type":"text","align":"left","baseline":"alphabetic","fontSize":27,"color":"#000"},"encoding":{"text":{"field":"lab"}}}
]}
]}
]
}
